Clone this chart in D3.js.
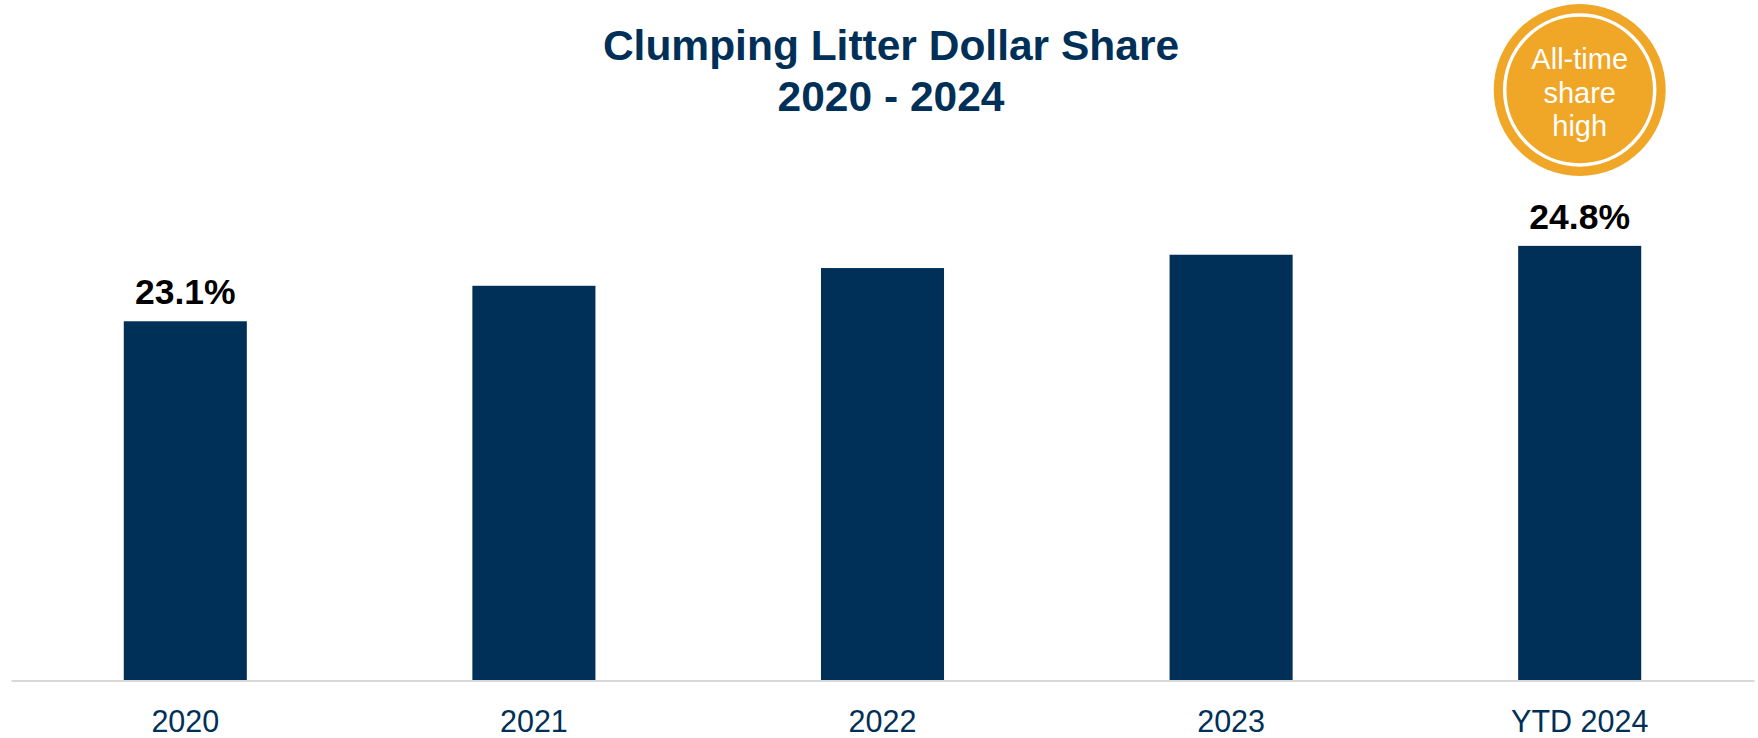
<!DOCTYPE html>
<html>
<head>
<meta charset="utf-8">
<script src="https://cdn.jsdelivr.net/npm/d3@7"></script>
<style>
  html, body { margin: 0; padding: 0; background: #ffffff; }
  svg { display: block; }
</style>
</head>
<body>
<svg id="chart" width="1758" height="738"></svg>
<script>
// ---- data ----
const categories = ["2020", "2021", "2022", "2023", "YTD 2024"];
const shareValues = [23.1, 23.9, 24.3, 24.6, 24.8];
const showLabel = [true, false, false, false, true];
const titleLines = ["Clumping Litter Dollar Share", "2020 - 2024"];
const calloutLines = ["All-time", "share", "high"];
const yDomain = [15, 25];

// ---- styles ----
const navy = "#003057";
const orange = "#f0a626";
const fontFamily = "'Liberation Sans', Arial, sans-serif";

const svg = d3.select("#chart");
const baseY = 680.5;

const x = d3.scaleBand()
  .domain(categories)
  .range([11, 1754])
  .paddingInner(0.647)
  .paddingOuter(0.3235);

const y = d3.scaleLinear()
  .domain(yDomain)
  .range([baseY, baseY - 443.5]);

// title
svg.append("g").selectAll("text")
  .data(titleLines)
  .join("text")
  .attr("x", 891)
  .attr("y", (d, i) => 60 + i * 51)
  .attr("text-anchor", "middle")
  .attr("font-family", fontFamily)
  .attr("font-weight", "bold")
  .attr("font-size", 42.5)
  .attr("fill", navy)
  .text(d => d);

// bars
svg.append("g").selectAll("rect")
  .data(shareValues)
  .join("rect")
  .attr("x", (d, i) => x(categories[i]))
  .attr("y", d => y(d))
  .attr("width", x.bandwidth())
  .attr("height", d => baseY - y(d))
  .attr("fill", navy);

// x axis
const xAxis = d3.axisBottom(x).tickSize(0).tickSizeOuter(0).tickPadding(30);
const gx = svg.append("g")
  .attr("transform", `translate(0,${baseY})`)
  .call(xAxis);
gx.select(".domain").attr("stroke", "#d9d9d9").attr("stroke-width", 2);
gx.selectAll("text")
  .attr("font-family", fontFamily)
  .attr("font-size", 30.5)
  .attr("fill", navy);

// value labels
const fmt = d => d3.format(".1f")(d) + "%";
svg.append("g").selectAll("text")
  .data(shareValues.map((v, i) => ({ v, c: categories[i], show: showLabel[i] })).filter(d => d.show))
  .join("text")
  .attr("x", d => x(d.c) + x.bandwidth() / 2)
  .attr("y", d => y(d.v) - 17)
  .attr("text-anchor", "middle")
  .attr("font-family", fontFamily)
  .attr("font-weight", "bold")
  .attr("font-size", 35.5)
  .attr("fill", "#000000")
  .text(d => fmt(d.v));

// callout circle above the last bar
const lastCat = categories[categories.length - 1];
const cx = x(lastCat) + x.bandwidth() / 2;
const cy = 90;
const callout = svg.append("g");
callout.append("circle")
  .attr("cx", cx).attr("cy", cy).attr("r", 86)
  .attr("fill", orange);
callout.append("circle")
  .attr("cx", cx).attr("cy", cy).attr("r", 75)
  .attr("fill", "none")
  .attr("stroke", "#ffffff")
  .attr("stroke-width", 3.5);
callout.selectAll("text")
  .data(calloutLines)
  .join("text")
  .attr("x", cx)
  .attr("y", (d, i) => 69 + i * 33.5)
  .attr("text-anchor", "middle")
  .attr("font-family", fontFamily)
  .attr("font-size", 29)
  .attr("fill", "#ffffff")
  .text(d => d);
</script>
</body>
</html>
